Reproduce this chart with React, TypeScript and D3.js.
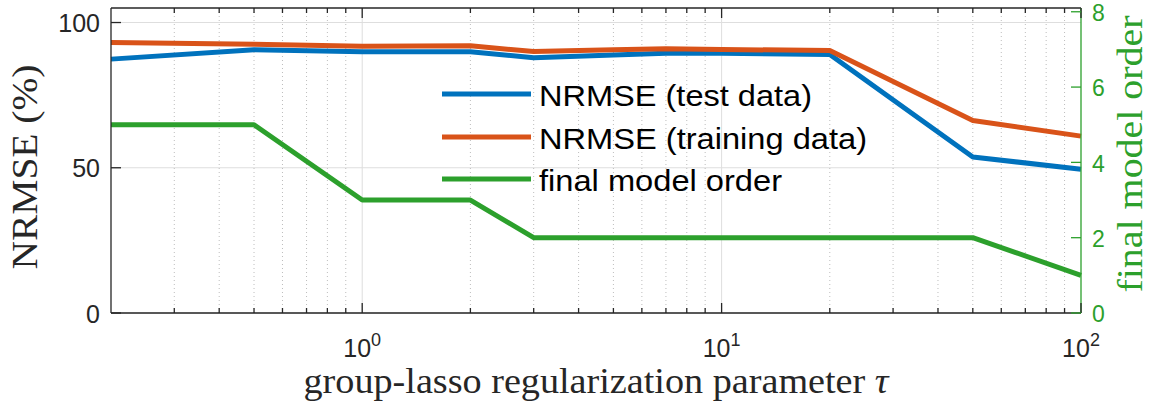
import React from "react";
import * as d3 from "d3";

const tau = [0.2, 0.5, 1, 2, 3, 5, 7, 10, 20, 50, 100];
const nrmseTest = [87.4, 90.6, 89.9, 89.9, 87.9, 88.8, 89.4, 89.4, 89.0, 53.7, 49.5];
const nrmseTrain = [93.1, 92.5, 91.8, 92.0, 90.0, 90.6, 91.0, 90.7, 90.4, 66.3, 60.9];
const modelOrder = [5, 5, 3, 3, 2, 2, 2, 2, 2, 2, 1];
const leftTicks = [0, 50, 100];
const rightTicks = [0, 2, 4, 6, 8];
const xMajor = [1, 10, 100];
const legendLabels = ["NRMSE (test data)", "NRMSE (training data)", "final model order"];

const BLUE = "#0072BD";
const ORANGE = "#D95319";
const GREEN = "#2CA02C";
const AX = "#262626";

export default function App() {
  const L = 111, R = 1081, T = 8, B = 313;
  const x = d3.scaleLog().domain([0.2, 100]).range([L, R]);
  const yL = d3.scaleLinear().domain([0, 105]).range([B, T]);
  const yR = d3.scaleLinear().domain([0, 8.1]).range([B, T]);

  const minor: number[] = [];
  [0.1, 1, 10].forEach((dec) => {
    for (let k = 2; k <= 9; k++) {
      const v = dec * k;
      if (v > 0.2 && v < 100) minor.push(v);
    }
  });
  const minorNoMajor = minor.filter((v) => !xMajor.includes(v));

  const lineL = d3
    .line<number>()
    .x((_, i) => x(tau[i]))
    .y((d) => yL(d));
  const lineR = d3
    .line<number>()
    .x((_, i) => x(tau[i]))
    .y((d) => yR(d));

  const legendY = [94, 137, 179];
  const legendColors = [BLUE, ORANGE, GREEN];
  const legendLens = [273, 328, 243];

  return (
    <svg
      width={1150}
      height={403}
      style={{ position: "absolute", left: 0, top: 0, background: "#fff" }}
    >
      <rect x={0} y={0} width={1150} height={403} fill="#fff" />
      {/* grid */}
      {leftTicks.map((t) => (
        <line key={"gy" + t} x1={L} x2={R} y1={yL(t)} y2={yL(t)} stroke="#dedede" strokeWidth={1} />
      ))}
      {minorNoMajor.map((v) => (
        <line
          key={"gm" + v}
          x1={x(v)}
          x2={x(v)}
          y1={T}
          y2={B}
          stroke="#bdbdbd"
          strokeWidth={1}
          strokeDasharray="1,3"
        />
      ))}
      {xMajor.filter((v) => v < 100).map((v) => (
        <line key={"gM" + v} x1={x(v)} x2={x(v)} y1={T} y2={B} stroke="#dedede" strokeWidth={1} />
      ))}

      {/* data */}
      <path d={lineL(nrmseTest) || ""} fill="none" stroke={BLUE} strokeWidth={5} strokeLinejoin="round" />
      <path d={lineL(nrmseTrain) || ""} fill="none" stroke={ORANGE} strokeWidth={5} strokeLinejoin="round" />
      <path d={lineR(modelOrder) || ""} fill="none" stroke={GREEN} strokeWidth={5} strokeLinejoin="round" />

      {/* axes box */}
      <line x1={L} x2={R} y1={T} y2={T} stroke={AX} strokeWidth={1.3} />
      <line x1={L} x2={R} y1={B} y2={B} stroke={AX} strokeWidth={1.3} />
      <line x1={L} x2={L} y1={T} y2={B} stroke={AX} strokeWidth={1.3} />
      <line x1={R} x2={R} y1={T} y2={B} stroke={GREEN} strokeWidth={1.3} />

      {/* x ticks */}
      {xMajor.map((v) => (
        <g key={"xt" + v}>
          <line x1={x(v)} x2={x(v)} y1={B} y2={B - 10} stroke={AX} strokeWidth={1.3} />
          <line x1={x(v)} x2={x(v)} y1={T} y2={T + 10} stroke={AX} strokeWidth={1.3} />
        </g>
      ))}
      {minor.map((v) => (
        <g key={"xm" + v}>
          <line x1={x(v)} x2={x(v)} y1={B} y2={B - 5} stroke={AX} strokeWidth={1.3} />
          <line x1={x(v)} x2={x(v)} y1={T} y2={T + 5} stroke={AX} strokeWidth={1.3} />
        </g>
      ))}
      {xMajor.map((v) => (
        <text
          key={"xl" + v}
          x={x(v)}
          y={357}
          textAnchor="middle"
          fontFamily="Liberation Sans, Arial, sans-serif"
          fontSize={25}
          fill={AX}
        >
          10
          <tspan fontSize={18} dy={-11}>
            {String(Math.round(Math.log10(v)))}
          </tspan>
        </text>
      ))}

      {/* left ticks */}
      {leftTicks.map((t) => (
        <g key={"lt" + t}>
          <line x1={L} x2={L + 10} y1={yL(t)} y2={yL(t)} stroke={AX} strokeWidth={1.3} />
          <text
            x={100}
            y={yL(t) + 9.5}
            textAnchor="end"
            fontFamily="Liberation Sans, Arial, sans-serif"
            fontSize={25}
            fill={AX}
          >
            {t}
          </text>
        </g>
      ))}

      {/* right ticks */}
      {rightTicks.map((t) => (
        <g key={"rt" + t}>
          <line x1={R} x2={R - 10} y1={yR(t)} y2={yR(t)} stroke={GREEN} strokeWidth={1.3} />
          <text
            x={1092}
            y={yR(t) + 9.3}
            textAnchor="start"
            fontFamily="Liberation Sans, Arial, sans-serif"
            fontSize={23}
            fill={GREEN}
          >
            {t}
          </text>
        </g>
      ))}

      {/* axis labels */}
      <text
        x={(L + R) / 2 + 0}
        y={393}
        textAnchor="middle"
        fontFamily="Liberation Serif, Times New Roman, serif"
        fontSize={35}
        fill={AX}
        textLength={585}
        lengthAdjust="spacingAndGlyphs"
      >
        group-lasso regularization parameter <tspan fontStyle="italic">τ</tspan>
      </text>
      <text
        transform={`translate(37,167) rotate(-90)`}
        textAnchor="middle"
        fontFamily="Liberation Serif, Times New Roman, serif"
        fontSize={35}
        fill={AX}
        textLength={205}
        lengthAdjust="spacingAndGlyphs"
      >
        NRMSE (%)
      </text>
      <text
        transform={`translate(1142,154) rotate(-90)`}
        textAnchor="middle"
        fontFamily="Liberation Serif, Times New Roman, serif"
        fontSize={35}
        fill={GREEN}
        textLength={277}
        lengthAdjust="spacingAndGlyphs"
      >
        final model order
      </text>

      {/* legend */}
      {legendLabels.map((lab, i) => (
        <g key={"lg" + i}>
          <line x1={442} x2={531} y1={legendY[i]} y2={legendY[i]} stroke={legendColors[i]} strokeWidth={5} />
          <text
            x={539}
            y={legendY[i] + 11.5}
            fontFamily="Liberation Sans, Arial, sans-serif"
            fontSize={30}
            fill="#000"
            textLength={legendLens[i]}
            lengthAdjust="spacingAndGlyphs"
          >
            {lab}
          </text>
        </g>
      ))}
    </svg>
  );
}
